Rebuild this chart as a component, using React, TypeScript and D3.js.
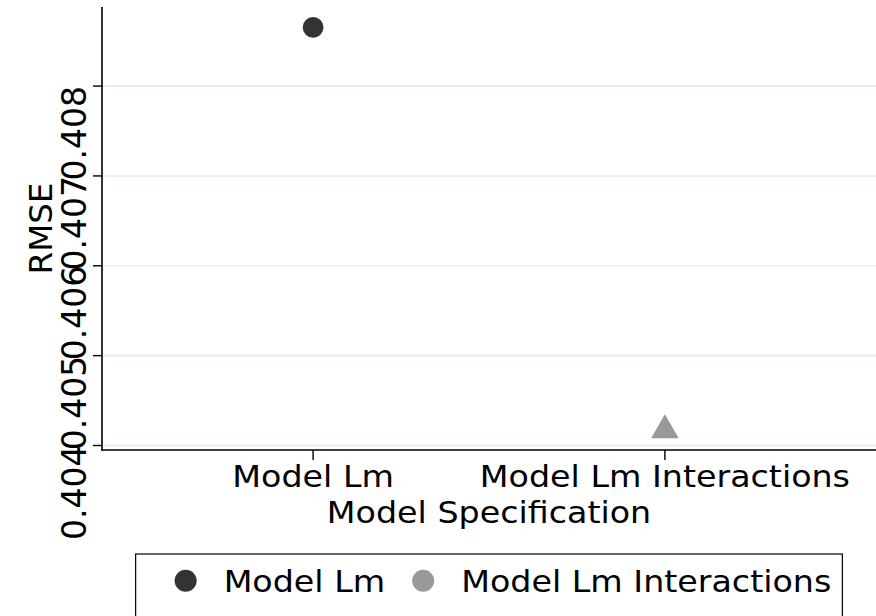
import React, { useEffect, useRef } from 'react';
import * as d3 from 'd3';

const categories = ['Model Lm', 'Model Lm Interactions'];
const rmseValues = [0.408654, 0.40417];
const markerShapes = ['circle', 'triangle'];
const markerColors = ['#333333', '#999999'];
const yTicks = [0.404, 0.405, 0.406, 0.407, 0.408];
const yDomain = [0.40395, 0.40888];
const legendLabels = ['Model Lm', 'Model Lm Interactions'];
const legendColors = ['#333333', '#999999'];
const xTitle = 'Model Specification';
const yTitle = 'RMSE';

const W = 876;
const H = 616;
const P = { left: 102, right: 876, top: 7, bottom: 450 };
const FONT = "'DejaVu Sans', sans-serif";
const SX = 1.11;

export default function App() {
  const ref = useRef<SVGSVGElement>(null);

  useEffect(() => {
    const svg = d3.select(ref.current as SVGSVGElement);
    svg.selectAll('*').remove();

    const x = d3.scalePoint<string>().domain(categories).range([P.left, P.right]).padding(0.6);
    const y = d3.scaleLinear().domain(yDomain).range([P.bottom, P.top]);

    // gridlines
    svg.append('g')
      .selectAll('line')
      .data(yTicks)
      .join('line')
      .attr('x1', P.left)
      .attr('x2', P.right)
      .attr('y1', (d) => y(d))
      .attr('y2', (d) => y(d))
      .attr('stroke', '#e4eeef')
      .attr('stroke-width', 1.6);

    // y axis
    svg.append('line')
      .attr('x1', P.left).attr('x2', P.left)
      .attr('y1', P.top).attr('y2', P.bottom + 0.8)
      .attr('stroke', '#000').attr('stroke-width', 1.6);
    svg.append('g')
      .selectAll('line')
      .data(yTicks)
      .join('line')
      .attr('x1', P.left - 9)
      .attr('x2', P.left)
      .attr('y1', (d) => y(d))
      .attr('y2', (d) => y(d))
      .attr('stroke', '#000')
      .attr('stroke-width', 1.4);
    svg.append('g')
      .selectAll('text')
      .data(yTicks)
      .join('text')
      .attr('transform', (d) => `translate(86,${y(d)}) rotate(-90)`)
      .attr('text-anchor', 'end')
      .attr('font-family', FONT)
      .attr('font-size', 33)
      .attr('fill', '#000')
      .text((d) => d3.format('.3f')(d));

    // y title
    svg.append('text')
      .attr('transform', `translate(52,${(P.top + P.bottom) / 2}) rotate(-90)`)
      .attr('text-anchor', 'middle')
      .attr('font-family', FONT)
      .attr('font-size', 32.5)
      .attr('fill', '#000')
      .text(yTitle);

    // x axis
    svg.append('line')
      .attr('x1', P.left - 0.8).attr('x2', P.right)
      .attr('y1', P.bottom).attr('y2', P.bottom)
      .attr('stroke', '#000').attr('stroke-width', 1.6);
    svg.append('g')
      .selectAll('line')
      .data(categories)
      .join('line')
      .attr('x1', (d) => x(d) as number)
      .attr('x2', (d) => x(d) as number)
      .attr('y1', P.bottom)
      .attr('y2', P.bottom + 10)
      .attr('stroke', '#000')
      .attr('stroke-width', 1.4);
    svg.append('g')
      .selectAll('text')
      .data(categories)
      .join('text')
      .attr('transform', (d) => `translate(${x(d)},487) scale(${SX},1)`)
      .attr('text-anchor', 'middle')
      .attr('font-family', FONT)
      .attr('font-size', 30)
      .attr('fill', '#000')
      .text((d) => d);

    svg.append('text')
      .attr('transform', `translate(${(P.left + P.right) / 2},523) scale(${SX},1)`)
      .attr('text-anchor', 'middle')
      .attr('font-family', FONT)
      .attr('font-size', 30)
      .attr('fill', '#000')
      .text(xTitle);

    // markers
    const data = categories.map((c, i) => ({ c, v: rmseValues[i], shape: markerShapes[i], color: markerColors[i] }));
    const mg = svg.append('g');
    data.forEach((d) => {
      const cx = x(d.c) as number;
      const cy = y(d.v);
      if (d.shape === 'circle') {
        mg.append('circle').attr('cx', cx).attr('cy', cy).attr('r', 10.4).attr('fill', d.color);
      } else {
        mg.append('path')
          .attr('transform', `translate(${cx},${cy})`)
          .attr('d', d3.symbol().type(d3.symbolTriangle).size(330)() as string)
          .attr('fill', d.color);
      }
    });

    // legend
    const lg = svg.append('g');
    const box = lg.append('rect')
      .attr('fill', '#fff')
      .attr('stroke', '#000')
      .attr('stroke-width', 1.2);
    const padL = 39;
    const padR = 11;
    const mD = 22;
    const gap = 27;
    const widths: number[] = [];
    const texts = legendLabels.map((l) => {
      const t = lg.append('text')
        .attr('font-family', FONT)
        .attr('font-size', 30)
        .attr('fill', '#000')
        .text(l);
      widths.push((t.node() as SVGTextElement).getComputedTextLength() * SX);
      return t;
    });
    const total = padL + padR + legendLabels.reduce((s, _, i) => s + mD + gap + widths[i] + (i > 0 ? gap : 0), 0);
    const left = (P.left + P.right) / 2 - total / 2;
    let cur = left + padL;
    const cyL = 580.8;
    legendLabels.forEach((_, i) => {
      if (i > 0) cur += gap;
      lg.append('circle').attr('cx', cur + mD / 2).attr('cy', cyL).attr('r', 11).attr('fill', legendColors[i]);
      cur += mD + gap;
      texts[i].attr('transform', `translate(${cur},591.7) scale(${SX},1)`);
      cur += widths[i];
    });
    box.attr('x', left).attr('y', 554).attr('width', total).attr('height', 100);
  }, []);

  return (
    <svg
      ref={ref}
      width={W}
      height={H}
      style={{ position: 'absolute', left: 0, top: 0, background: '#fff', display: 'block' }}
    />
  );
}
